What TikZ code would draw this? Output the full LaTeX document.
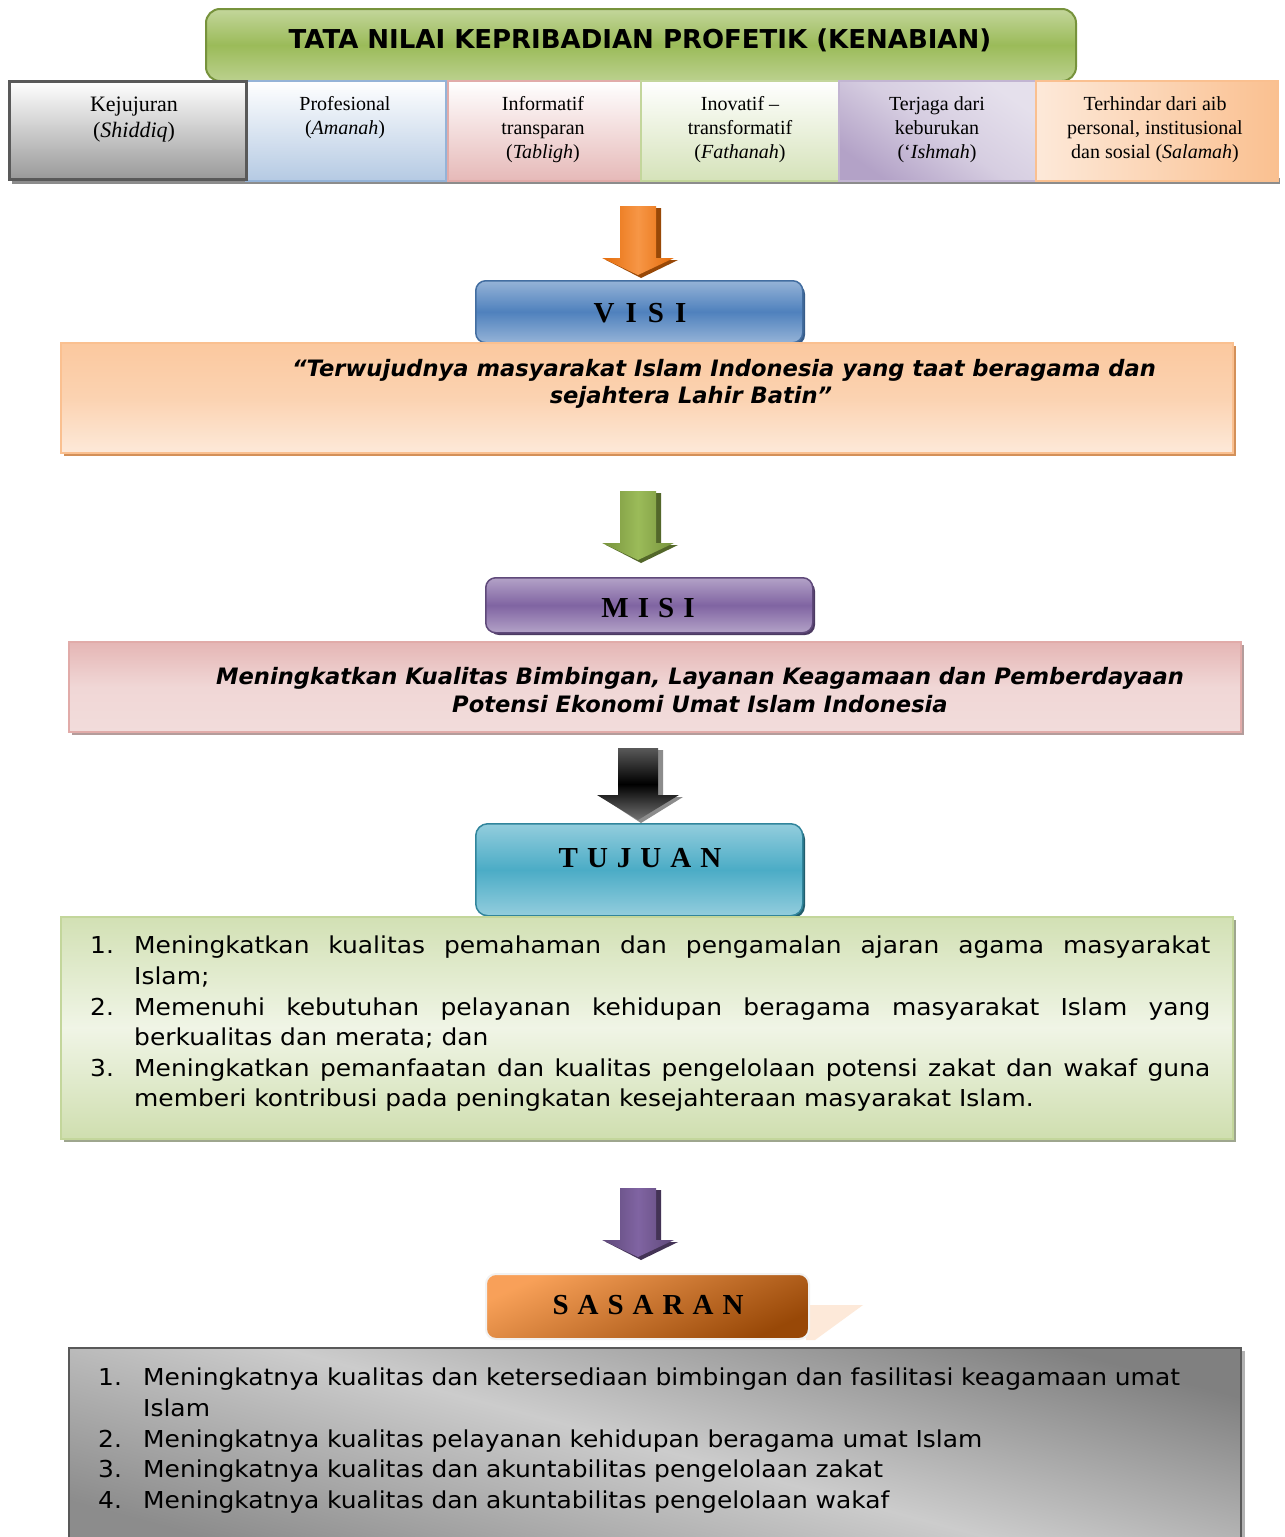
\documentclass[tikz,border=0pt]{standalone}
\usepackage{fontspec}
\setmainfont{Liberation Serif}
\newfontfamily\verd{DejaVu Sans}
\newfontfamily\verdw[FakeStretch=1.07]{DejaVu Sans}
\usepackage{enumitem}
\definecolor{grnD}{HTML}{77933C}
\definecolor{grnM}{HTML}{9BBB59}
\definecolor{grnL}{HTML}{C3D69B}
\definecolor{bluM}{HTML}{4F81BD}
\definecolor{bluL}{HTML}{95B3D7}
\definecolor{bluD}{HTML}{385D8A}
\definecolor{purM}{HTML}{8064A2}
\definecolor{purL}{HTML}{B3A2C7}
\definecolor{purD}{HTML}{5F497A}
\definecolor{aquM}{HTML}{4BACC6}
\definecolor{aquL}{HTML}{93CDDD}
\definecolor{aquD}{HTML}{31859C}
\definecolor{orgM}{HTML}{F79646}
\definecolor{orgD}{HTML}{E46C0A}
\definecolor{orgDD}{HTML}{984807}
\definecolor{orgL}{HTML}{FAC090}
\definecolor{orgLL}{HTML}{FDE9D9}
\definecolor{redL}{HTML}{E6B9B8}
\definecolor{redB}{HTML}{D99694}
\definecolor{redLL}{HTML}{F2DCDB}
\definecolor{pkL}{HTML}{E5E0EC}
\newcommand\myarrow[8]{%
  \fill[#8] ({#1-#5+5},{#2+2}) -- ({#1+#5+5},{#2+2}) -- ({#1+#5+5},{#3+2}) -- ({#1+#6+4},{#3+2}) -- ({#1+3},{#4+3}) -- ({#1-#6+4},{#3+2}) -- ({#1-#5+5},{#3+2}) -- cycle;
  \shade[#7] ({#1-#5},#2) -- ({#1+#5},#2) -- ({#1+#5},#3) -- ({#1+#6},#3) -- (#1,#4) -- ({#1-#6},#3) -- ({#1-#5},#3) -- cycle;
}
\begin{document}
\begin{tikzpicture}[x=1pt,y=-1pt,
  rowbox/.style={draw, line width=2pt, inner sep=0, anchor=north west},
  lbl/.style={align=center, font=\fontsize{20}{24}\selectfont, inner sep=0},
  hdr/.style={draw, rounded corners=10pt, line width=1.5pt, inner sep=0, anchor=north west},
  hdrtext/.style={font=\fontsize{29}{30}\selectfont\bfseries, inner sep=0},
  bigbox/.style={draw, line width=1.5pt, inner sep=0, anchor=north west},
  bodytext/.style={font=\verd\bfseries\itshape\fontsize{22.6}{28}\selectfont, inner sep=0, align=center},
  listtext/.style={font=\verdw\fontsize{23.3}{30.6}\selectfont, inner sep=0, anchor=north west, text width=1120pt}
]
\useasboundingbox[fill=white] (0,0) rectangle (1285,1537);

% ---------- title ----------
\node[draw=grnD, line width=2pt, rounded corners=14pt, top color=grnL, bottom color=grnL!80!grnM, middle color=grnM,
      minimum width=870pt, minimum height=72pt, anchor=north west, inner sep=0] (title) at (205,8) {};
\node[font=\verd\bfseries\fontsize{26}{28}\selectfont, inner sep=0] (titleT) at (640,40) {TATA NILAI KEPRIBADIAN PROFETIK (KENABIAN)};

% ---------- value row ----------
\fill[black!45] (12,178) rectangle (1280,184);
\node[rowbox, draw=bluL, top color=white, bottom color=bluL!70, minimum width=200pt, minimum height=100pt] (b2) at (245,80) {};
\node[rowbox, draw=redB!80, top color=white, bottom color=redL, minimum width=193pt, minimum height=100pt] (b3) at (447,80) {};
\node[rowbox, draw=grnL, top color=white, bottom color=grnL!70, minimum width=198pt, minimum height=100pt] (b4) at (640,80) {};
\node[rowbox, draw=purL!80, top color=pkL, bottom color=purL, middle color=pkL!70!purL, shading angle=-35, minimum width=197pt, minimum height=100pt] (b5) at (838,80) {};
\node[rowbox, draw=orgL, left color=orgLL, right color=orgL, minimum width=242pt, minimum height=100pt] (b6) at (1035,80) {};
\node[rowbox, draw=black!65, line width=2.5pt, top color=white, bottom color=black!40, minimum width=237pt, minimum height=98pt] (b1) at (8,80) {};

\node[lbl, font=\fontsize{22}{26}\selectfont] (l1) at (134,120) {Kejujuran\\(\textit{Shiddiq})};
\node[lbl] (l2) at (345,118) {Profesional\\(\textit{Amanah})};
\node[lbl] (l3) at (543,130) {Informatif\\transparan\\(\textit{Tabligh})};
\node[lbl] (l4) at (740,130) {Inovatif –\\transformatif\\(\textit{Fathanah})};
\node[lbl] (l5) at (937,130) {Terjaga dari\\keburukan\\(‘\textit{Ishmah})};
\node[lbl] (l6) at (1155,130) {Terhindar dari aib\\personal, institusional\\dan sosial (\textit{Salamah})};

% ---------- arrow 1 (orange) ----------
\myarrow{638}{206}{258}{275}{18}{36}{left color=orgD, right color=orgD, middle color=orgM}{orgDD}

% ---------- VISI ----------
\fill[bluD, rounded corners=10pt] (479,284) rectangle (805,345);
\node[hdr, draw=bluM!85!black, top color=bluL, bottom color=bluL, middle color=bluM, minimum width=327pt, minimum height=62pt] (visi) at (475,280) {};
\node[hdrtext] (visiT) at (640,313) {V\hspace{11pt}I\hspace{11pt}S\hspace{11pt}I};

\fill[orgDD!40!orgL] (64,346) rectangle (1236,456);
\node[bigbox, draw=orgL, top color=orgL!80!orgLL, bottom color=orgLL, middle color=orgL!55!orgLL, minimum width=1172pt, minimum height=110pt] (visibox) at (60,342) {};
\node[bodytext] (visi1) at (724,370) {“Terwujudnya masyarakat Islam Indonesia yang taat beragama dan};
\node[bodytext] (visi2) at (691,397) {sejahtera Lahir Batin”};

% ---------- arrow 2 (green) ----------
\myarrow{638}{491}{543}{560}{18}{36}{left color=grnD, right color=grnD, middle color=grnM}{grnD!70!black}

% ---------- MISI ----------
\fill[purD!80!black, rounded corners=10pt] (489,581) rectangle (815,635);
\node[hdr, draw=purD, top color=purL, bottom color=purL, middle color=purM, minimum width=327pt, minimum height=55pt] (misi) at (485,577) {};
\node[hdrtext] (misiT) at (648,608) {M\hspace{9pt}I\hspace{9pt}S\hspace{9pt}I};

\fill[redB!60!black!60] (72,645) rectangle (1244,735);
\node[bigbox, draw=redB!80, top color=redL!90!redB, bottom color=redLL, middle color=redLL!85!redL, minimum width=1172pt, minimum height=90pt] (misibox) at (68,641) {};
\node[bodytext] (misiTxt) at (700,690) {Meningkatkan Kualitas Bimbingan, Layanan Keagamaan dan Pemberdayaan\\Potensi Ekonomi Umat Islam Indonesia};

% ---------- arrow 3 (black) ----------
\myarrow{638}{748}{795}{820}{20}{41}{top color=black!65, bottom color=black!55, middle color=black}{black!45}

% ---------- TUJUAN ----------
\fill[aquD!70!black, rounded corners=12pt] (479,827) rectangle (805,918);
\node[hdr, draw=aquD, rounded corners=12pt, top color=aquL, bottom color=aquL, middle color=aquM, minimum width=327pt, minimum height=92pt] (tujuan) at (475,823) {};
\node[hdrtext] (tujuanT) at (640,858) {T\hspace{9pt}U\hspace{9pt}J\hspace{9pt}U\hspace{9pt}A\hspace{9pt}N};

\fill[grnL!60!black!70] (64,920) rectangle (1236,1142);
\node[bigbox, draw=grnL, top color=grnL!75!white, bottom color=grnL!80!white, middle color=grnL!25!white, minimum width=1172pt, minimum height=222pt] (tujuanbox) at (60,916) {};
\node[listtext, align=justify] (tujuanL) at (90,923) {%
\begin{enumerate}[label=\arabic*., leftmargin=44pt, labelindent=0pt, labelwidth=30pt, labelsep=14pt, align=left, topsep=0pt, itemsep=0pt, parsep=0pt, partopsep=0pt]
\item Meningkatkan kualitas pemahaman dan pengamalan ajaran agama masyarakat\linebreak Islam;
\item Memenuhi kebutuhan pelayanan kehidupan beragama masyarakat Islam yang\linebreak berkualitas dan merata; dan
\item Meningkatkan pemanfaatan dan kualitas pengelolaan potensi zakat dan wakaf guna\linebreak memberi kontribusi pada peningkatan kesejahteraan masyarakat Islam.
\end{enumerate}};

% ---------- arrow 4 (purple) ----------
\myarrow{638}{1188}{1240}{1257}{18}{36}{left color=purD, right color=purD, middle color=purM}{purD!70!black}

% ---------- SASARAN ----------
\fill[orgLL] (806,1305) -- (863,1305) -- (815,1340) -- (806,1340) -- cycle;
\node[hdr, draw=black!5, line width=2pt, top color=orgM!90!white, bottom color=orgDD, shading angle=25, minimum width=323pt, minimum height=65pt] (sasaran) at (485,1273) {};
\node[hdrtext] (sasaranT) at (648,1305) {S\hspace{9pt}A\hspace{9pt}S\hspace{9pt}A\hspace{9pt}R\hspace{9pt}A\hspace{9pt}N};

\fill[black!30] (1240,1351) rectangle (1245,1537);
\node[bigbox, draw=black!65, line width=2pt, top color=black!50, bottom color=black!45, middle color=black!20, shading angle=-15, minimum width=1172pt, minimum height=200pt] (sasaranbox) at (68,1347) {};
\node[listtext, align=left] (sasaranL) at (98,1355) {%
\begin{enumerate}[label=\arabic*., leftmargin=45pt, labelindent=0pt, labelwidth=30pt, labelsep=15pt, align=left, topsep=0pt, itemsep=0pt, parsep=0pt, partopsep=0pt]
\item Meningkatnya kualitas dan ketersediaan bimbingan dan fasilitasi keagamaan umat\newline Islam
\item Meningkatnya kualitas pelayanan kehidupan beragama umat Islam
\item Meningkatnya kualitas dan akuntabilitas pengelolaan zakat
\item Meningkatnya kualitas dan akuntabilitas pengelolaan wakaf
\end{enumerate}};
\end{tikzpicture}
\end{document}
